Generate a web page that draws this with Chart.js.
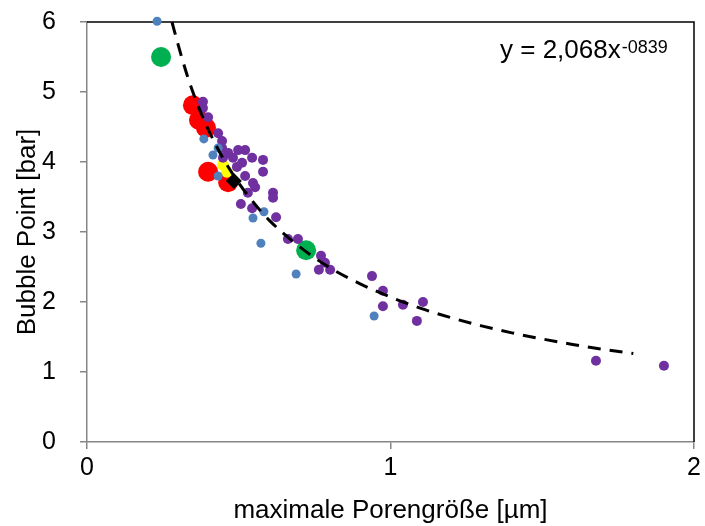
<!DOCTYPE html>
<html>
<head>
<meta charset="utf-8">
<script src="https://cdn.jsdelivr.net/npm/chart.js@4/dist/chart.umd.min.js"></script>
<style>
  body { margin: 0; background: #fff; }
  #wrap { width: 705px; height: 526px; }
</style>
</head>
<body>
<div id="wrap"><canvas id="output" width="705" height="526"></canvas></div>
<script>
// values
const blueX = [0.231, 0.385, 0.415, 0.432, 0.432, 0.583, 0.547, 0.573, 0.689, 0.946];
const blueY = [6.01, 4.33, 4.10, 4.20, 3.80, 3.29, 3.20, 2.84, 2.40, 1.80];

const purpleX = [0.382, 0.382, 0.399, 0.432, 0.445, 0.445, 0.465, 0.498, 0.521, 0.448,
  0.481, 0.544, 0.580, 0.511, 0.494, 0.580, 0.521, 0.547, 0.554, 0.530,
  0.613, 0.613, 0.507, 0.544, 0.623, 0.662, 0.695, 0.771, 0.784, 0.764,
  0.801, 0.939, 0.975, 0.975, 1.041, 1.107, 1.087, 1.677, 1.901];
const purpleY = [4.86, 4.77, 4.64, 4.41, 4.30, 4.20, 4.13, 4.17, 4.17, 4.06,
  4.06, 4.06, 4.03, 3.99, 3.93, 3.86, 3.80, 3.70, 3.64, 3.56,
  3.56, 3.49, 3.40, 3.34, 3.21, 2.90, 2.90, 2.66, 2.56, 2.46,
  2.46, 2.37, 2.16, 1.94, 1.96, 2.00, 1.73, 1.16, 1.09];

const redX = [0.349, 0.369, 0.392, 0.399, 0.465];
const redY = [4.81, 4.60, 4.49, 3.86, 3.71];

const greenX = [0.244, 0.722];
const greenY = [5.50, 2.74];

const yellowX = [0.448, 0.461];
const yellowY = [3.96, 3.86];

const blackX = [0.484];
const blackY = [3.73];

// trendline y = 2,068x^-0,839
const trendX = [0.28, 0.30, 0.33, 0.36, 0.40, 0.45, 0.50, 0.55, 0.60, 0.70, 0.80,
  0.90, 1.0, 1.1, 1.2, 1.3, 1.4, 1.5, 1.6, 1.7, 1.8];
const trendY = [6.0, 5.68, 5.24, 4.87, 4.46, 4.04, 3.70, 3.415, 3.17, 2.79, 2.49,
  2.26, 2.07, 1.909, 1.775, 1.659, 1.559, 1.472, 1.394, 1.325, 1.263];

const xTicks = [0, 1, 2];
const yTicks = [0, 1, 2, 3, 4, 5, 6];

const xTitle = "maximale Porengröße [µm]";
const yTitle = "Bubble Point [bar]";
const eqMain = "y = 2,068x";
const eqExp = "-0839";

const FONT = "'Liberation Sans', Arial, sans-serif";
const AXIS_GRAY = "#868686";

function pts(xs, ys) {
  return xs.map((x, i) => ({ x: x, y: ys[i] }));
}

function dots(data, color, radius, order, style) {
  return {
    type: "scatter",
    data: data,
    backgroundColor: color,
    borderColor: color,
    borderWidth: 0,
    pointRadius: radius,
    pointHoverRadius: radius,
    pointStyle: style || "circle",
    clip: false,
    order: order,
  };
}

// black frame on top/right + equation text
const extras = {
  id: "extras",
  beforeDatasetsDraw(chart) {
    const { ctx, chartArea: a } = chart;
    ctx.save();
    ctx.strokeStyle = "#000";
    ctx.lineWidth = 1.5;
    ctx.beginPath();
    ctx.moveTo(a.left, a.top);
    ctx.lineTo(a.right, a.top);
    ctx.lineTo(a.right, a.bottom);
    ctx.stroke();
    ctx.restore();
  },
  afterDraw(chart) {
    const { ctx } = chart;
    ctx.save();
    ctx.fillStyle = "#000";
    ctx.textBaseline = "alphabetic";
    ctx.font = "26px " + FONT;
    ctx.fillText(eqMain, 500, 58);
    const w = ctx.measureText(eqMain).width;
    ctx.font = "18px " + FONT;
    ctx.fillText(eqExp, 501 + w, 53);
    ctx.restore();
  },
};

const ctx = document.getElementById("output").getContext("2d");

new Chart(ctx, {
  data: {
    datasets: [
      {
        type: "line",
        data: pts(trendX, trendY),
        borderColor: "#000",
        borderWidth: 3,
        borderDash: [13, 9],
        borderCapStyle: "butt",
        pointRadius: 0,
        fill: false,
        cubicInterpolationMode: "monotone",
        clip: false,
        order: 0,
      },
      dots(pts(blackX, blackY), "#000", 8, 1, "rectRot"),
      dots(pts(blueX, blueY), "#4F81BD", 4.5, 2),
      dots(pts(purpleX, purpleY), "#7030A0", 5, 3),
      dots(pts(greenX, greenY), "#00B050", 10, 4),
      dots(pts(yellowX, yellowY), "#FFFF00", 6, 5),
      dots(pts(redX, redY), "#FF0000", 10, 6),
    ],
  },
  options: {
    responsive: false,
    animation: false,
    events: [],
    layout: { padding: { left: 0, right: 11, top: 22, bottom: 0 } },
    plugins: {
      legend: { display: false },
      tooltip: { enabled: false },
    },
    scales: {
      x: {
        type: "linear",
        min: 0,
        max: 2,
        afterBuildTicks: (s) => { s.ticks = xTicks.map((v) => ({ value: v })); },
        afterFit: (s) => {
          s.height = 84;
          s.paddingLeft = 0;
          s.paddingRight = 0;
        },
        grid: { drawOnChartArea: false, tickLength: 7, color: AXIS_GRAY, lineWidth: 1.5 },
        border: { color: AXIS_GRAY, width: 1.5 },
        ticks: { color: "#000", padding: 4, font: { family: FONT, size: 25 } },
        title: {
          display: true,
          text: xTitle,
          color: "#000",
          font: { family: FONT, size: 26 },
          padding: { top: 0, bottom: 0 },
        },
      },
      y: {
        type: "linear",
        min: 0,
        max: 6,
        afterBuildTicks: (s) => { s.ticks = yTicks.map((v) => ({ value: v })); },
        afterFit: (s) => {
          s.width = 87;
          s.paddingTop = 0;
          s.paddingBottom = 0;
        },
        grid: { drawOnChartArea: false, tickLength: 7, color: AXIS_GRAY, lineWidth: 1.5 },
        border: { color: AXIS_GRAY, width: 1.5 },
        ticks: { color: "#000", padding: 24, font: { family: FONT, size: 25 } },
        title: {
          display: true,
          text: yTitle,
          color: "#000",
          font: { family: FONT, size: 26 },
          padding: { top: 12, bottom: 0 },
        },
      },
    },
  },
  plugins: [extras],
});
</script>
</body>
</html>
